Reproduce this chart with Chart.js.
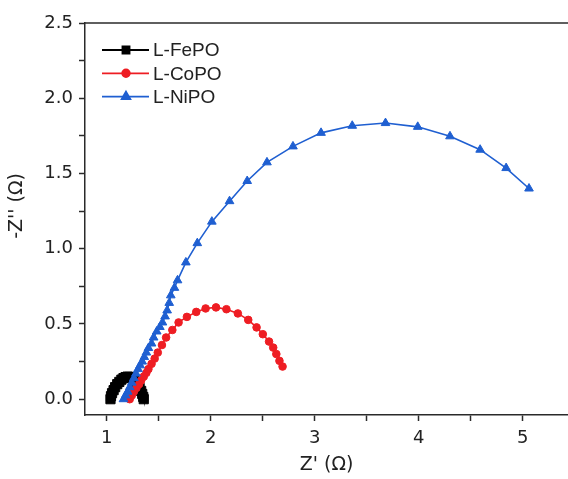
<!DOCTYPE html>
<html>
<head>
<meta charset="utf-8">
<script src="https://cdn.jsdelivr.net/npm/chart.js@4.4.1/dist/chart.umd.min.js"></script>
<style>
  html, body { margin: 0; padding: 0; background: #fff; }
  #wrap { width: 568px; height: 479px; }
</style>
</head>
<body>
<div id="wrap"><canvas id="grafico" width="568" height="479"></canvas></div>
<script>
// Series names
const nombres = ["L-FePO", "L-CoPO", "L-NiPO"];

// L-FePO (Z', -Z'')
const fepoX = [1.035, 1.04, 1.05, 1.065, 1.08, 1.10, 1.12, 1.14, 1.16, 1.18, 1.20, 1.22, 1.24, 1.26,
               1.28, 1.30, 1.315, 1.33, 1.34, 1.35, 1.355];
const fepoY = [0.00, 0.02, 0.04, 0.06, 0.08, 0.10, 0.115, 0.13, 0.14, 0.147, 0.15, 0.148, 0.142, 0.13,
               0.115, 0.095, 0.075, 0.055, 0.035, 0.015, 0.00];

// L-CoPO
const copoX = [1.22, 1.24, 1.26, 1.285, 1.31, 1.33, 1.355, 1.38, 1.40, 1.43, 1.46, 1.49, 1.53, 1.57, 1.63,
               1.69, 1.77, 1.86, 1.95, 2.05, 2.15, 2.26, 2.36, 2.44, 2.50, 2.56, 2.60, 2.63, 2.66, 2.69];
const copoY = [0.00, 0.025, 0.05, 0.075, 0.10, 0.125, 0.15, 0.175, 0.20, 0.235, 0.27, 0.31, 0.36, 0.41, 0.46,
               0.51, 0.547, 0.58, 0.603, 0.61, 0.598, 0.57, 0.527, 0.477, 0.432, 0.383, 0.343, 0.30, 0.255, 0.217];

// L-NiPO
const nipoX = [1.16, 1.18, 1.20, 1.22, 1.24, 1.26, 1.28, 1.30, 1.32, 1.34, 1.36, 1.38, 1.40, 1.43, 1.45, 1.48,
               1.51, 1.535, 1.56, 1.58, 1.60, 1.615, 1.65, 1.68, 1.76, 1.87, 2.01, 2.18, 2.35, 2.54, 2.79,
               3.06, 3.36, 3.68, 3.99, 4.30, 4.59, 4.84, 5.06];
const nipoY = [0.00, 0.025, 0.05, 0.08, 0.11, 0.14, 0.17, 0.20, 0.225, 0.25, 0.28, 0.31, 0.34, 0.37, 0.41, 0.45,
               0.48, 0.51, 0.55, 0.59, 0.64, 0.69, 0.74, 0.79, 0.909, 1.037, 1.18, 1.316, 1.45, 1.574, 1.68,
               1.77, 1.817, 1.835, 1.81, 1.747, 1.658, 1.536, 1.40];

// Tick positions
const ticksX = [1, 1.5, 2, 2.5, 3, 3.5, 4, 4.5, 5];
const ticksY = [0, 0.25, 0.5, 0.75, 1, 1.25, 1.5, 1.75, 2, 2.25, 2.5];

const ctx = document.getElementById("grafico").getContext("2d");
const puntos = (xs, ys) => xs.map((x, i) => ({ x: x, y: ys[i] }));
const colorEje = "#2a2a2a";
const fuente = "'Liberation Sans', Arial, sans-serif";
const fuenteEje = "'DejaVu Sans', sans-serif";
const tituloY = "-Z'' (Ω)";

// top frame line (right side is cut off in the original) + y title
const bordeSuperior = {
  id: "bordeSuperior",
  afterDraw(chart) {
    const { ctx, chartArea } = chart;
    ctx.save();
    ctx.strokeStyle = colorEje;
    ctx.lineWidth = 1.5;
    ctx.beginPath();
    ctx.moveTo(chartArea.left, chartArea.top);
    ctx.lineTo(chartArea.right, chartArea.top);
    ctx.stroke();
    // y axis title, a bit above the middle like the original
    ctx.translate(17, 206);
    ctx.rotate(-Math.PI / 2);
    ctx.fillStyle = "#222";
    ctx.font = "19px " + fuenteEje;
    ctx.textAlign = "center";
    ctx.textBaseline = "middle";
    ctx.fillText(tituloY, 0, 0);
    ctx.restore();
  }
};

// legend inside the plot, top left
const leyenda = {
  id: "leyenda",
  afterDraw(chart) {
    const c = chart.ctx;
    const x0 = 102, x1 = 149, xm = 126;
    c.save();
    chart.data.datasets.forEach((ds, i) => {
      const y = 50 + i * 23.3;
      c.strokeStyle = ds.borderColor;
      c.lineWidth = 1.8;
      c.beginPath();
      c.moveTo(x0, y);
      c.lineTo(x1, y);
      c.stroke();
      c.fillStyle = ds.backgroundColor;
      Chart.helpers.drawPoint(c, { pointStyle: ds.pointStyle, radius: ds.legendRadius, rotation: 0, borderWidth: 1 }, xm, y);
      c.fill();
      c.fillStyle = "#222";
      c.font = "19px " + fuente;
      c.textBaseline = "middle";
      c.textAlign = "left";
      c.fillText(ds.label, 153, y + 1);
    });
    c.restore();
  }
};

new Chart(ctx, {
  type: "scatter",
  data: {
    datasets: [
      {
        label: nombres[0],
        data: puntos(fepoX, fepoY),
        showLine: true,
        borderColor: "#000000",
        backgroundColor: "#000000",
        borderWidth: 1.8,
        pointStyle: "rect",
        pointRadius: 6.5,
        pointBorderWidth: 1,
        legendRadius: 5,
        order: 3
      },
      {
        label: nombres[1],
        data: puntos(copoX, copoY),
        showLine: true,
        borderColor: "#ee1d23",
        backgroundColor: "#ee1d23",
        borderWidth: 1.6,
        pointStyle: "circle",
        pointRadius: 3.8,
        pointBorderWidth: 1,
        legendRadius: 3.8,
        order: 2
      },
      {
        label: nombres[2],
        data: puntos(nipoX, nipoY),
        showLine: true,
        borderColor: "#1f5fd1",
        backgroundColor: "#1f5fd1",
        borderWidth: 1.6,
        pointStyle: "triangle",
        pointRadius: 5,
        pointBorderWidth: 1,
        legendRadius: 5,
        order: 1
      }
    ]
  },
  options: {
    responsive: false,
    animation: false,
    layout: { autoPadding: false, padding: { top: 23, right: 0, bottom: 0, left: 0 } },
    plugins: {
      legend: { display: false },
      tooltip: { enabled: false }
    },
    scales: {
      x: {
        type: "linear",
        min: 0.79,
        max: 5.435,
        afterBuildTicks: s => { s.ticks = ticksX.map(v => ({ value: v })); },
        afterFit: s => { s.height = 64; s.paddingLeft = 0; s.paddingRight = 0; },
        grid: { drawOnChartArea: false, drawTicks: true, tickLength: 6, tickColor: colorEje, tickWidth: 1.5 },
        border: { color: colorEje, width: 1.5 },
        ticks: {
          autoSkip: false,
          maxRotation: 0,
          padding: 7,
          color: "#222",
          font: { family: fuenteEje, size: 18 },
          callback: v => (Number.isInteger(v) ? String(v) : "")
        },
        title: { display: true, text: "Z' (Ω)", color: "#222", font: { family: fuenteEje, size: 19 }, padding: { top: 0, bottom: 3 } }
      },
      y: {
        type: "linear",
        min: -0.105,
        max: 2.5,
        afterBuildTicks: s => { s.ticks = ticksY.map(v => ({ value: v })); },
        afterFit: s => { s.width = 85; s.paddingTop = 0; s.paddingBottom = 0; },
        grid: { drawOnChartArea: false, drawTicks: true, tickLength: 6, tickColor: colorEje, tickWidth: 1.5 },
        border: { color: colorEje, width: 1.5 },
        ticks: {
          autoSkip: false,
          padding: 6,
          color: "#222",
          font: { family: fuenteEje, size: 18 },
          callback: v => (Math.abs(v * 2 - Math.round(v * 2)) < 1e-9 ? v.toFixed(1) : "")
        },
        title: { display: false }
      }
    }
  },
  plugins: [bordeSuperior, leyenda]
});
</script>
</body>
</html>
